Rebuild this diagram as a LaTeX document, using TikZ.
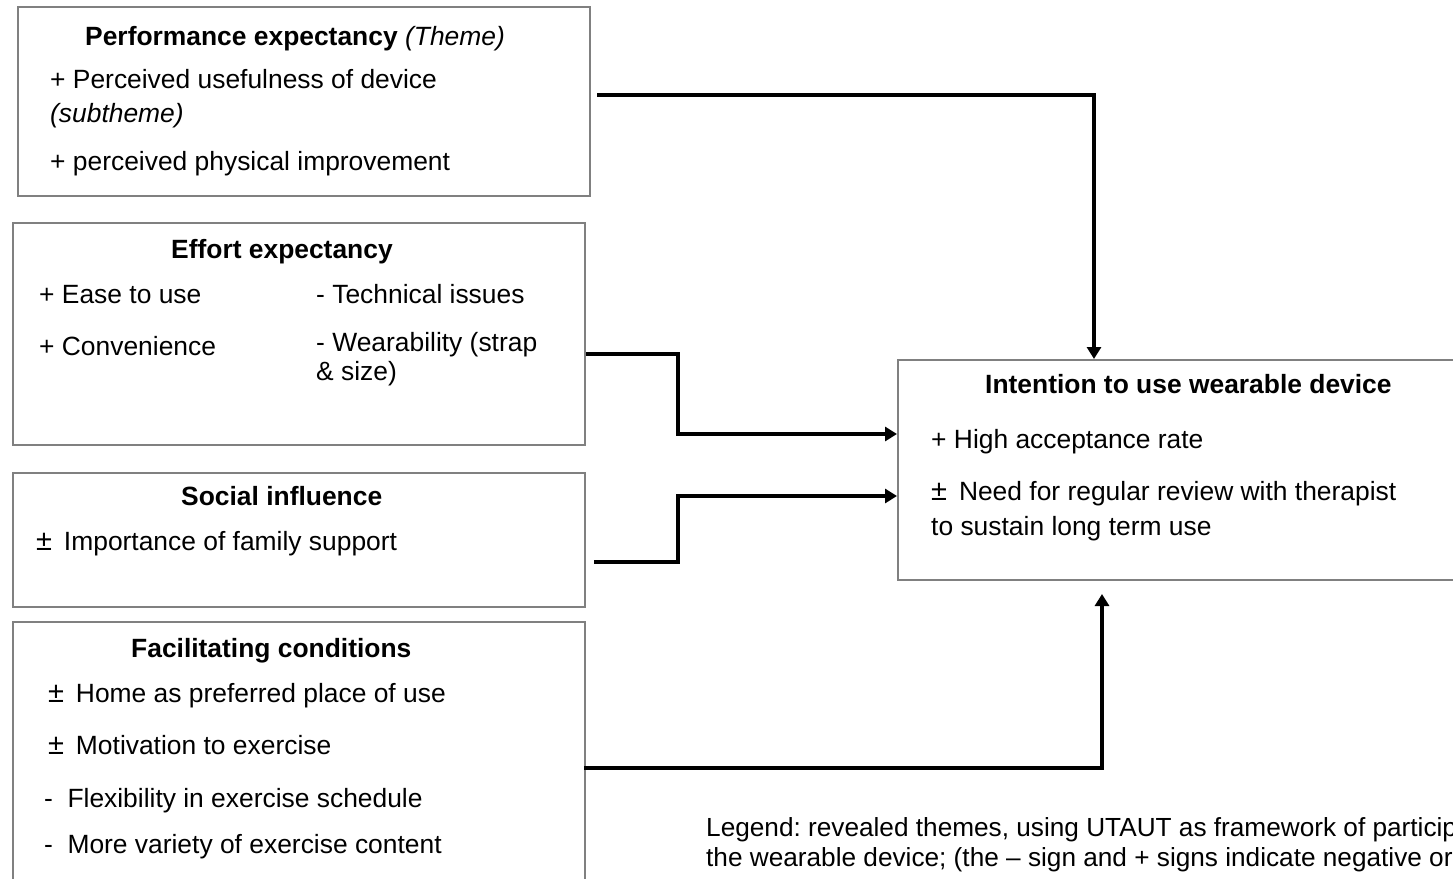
\documentclass[tikz,border=0pt]{standalone}
\usepackage{fontspec}
\setmainfont{Liberation Sans}
\usetikzlibrary{arrows.meta,calc}
\definecolor{boxgray}{RGB}{128,128,128}
\tikzset{
  themebox/.style={draw=boxgray, line width=2pt, anchor=north west, inner sep=0pt},
  txt/.style={anchor=base west, inner sep=0pt, font=\fontsize{26.4}{31}\selectfont},
  ttl/.style={txt, font=\fontsize{26.4}{31}\selectfont\bfseries},
  legend/.style={anchor=base west, inner sep=0pt,
    font=\fontsize{26.2}{30}\selectfont\frenchspacing},
  conn/.style={line width=3.5pt, -{Triangle[length=12pt,width=14pt]}}
}
\newcommand{\mixedsign}{{\fontsize{29}{31}\selectfont ±}\hspace{0.45em}}
\begin{document}
\begin{tikzpicture}[x=1pt,y=-1pt]
\clip (0,0) rectangle (1453,878);
\fill[white] (0,0) rectangle (1453,878);

% theme boxes
\node[themebox, minimum width=572, minimum height=189] (perf) at (17,6) {};
\node[themebox, minimum width=572, minimum height=222] (eff) at (12,222) {};
\node[themebox, minimum width=572, minimum height=134] (soc) at (12,472) {};
\node[themebox, minimum width=572, minimum height=320] (fac) at (12,621) {};
\node[themebox, minimum width=620, minimum height=220] (intent) at (897,359) {};

% performance expectancy
\node[ttl] (perfT) at (85,45) {Performance expectancy \normalfont\itshape (Theme)};
\node[txt] (perf1) at (50,88) {+ Perceived usefulness of device};
\node[txt] (perf2) at (50,122) {\itshape (subtheme)};
\node[txt] (perf3) at (50,170) {+ perceived physical improvement};

% effort expectancy
\node[ttl] (effT) at (171,258) {Effort expectancy};
\node[txt] (eff1) at (39,303) {+ Ease to use};
\node[txt] (eff2) at (316,303) {- Technical issues};
\node[txt] (eff3) at (39,355) {+ Convenience};
\node[txt] (eff4) at (316,351) {- Wearability (strap};
\node[txt] (eff5) at (316,380) {\& size)};

% social influence
\node[ttl] (socT) at (181,505) {Social influence};
\node[txt] (soc1) at (36,550) {\mixedsign Importance of family support};

% facilitating conditions
\node[ttl] (facT) at (131,657) {Facilitating conditions};
\node[txt] (fac1) at (48,702) {\mixedsign Home as preferred place of use};
\node[txt] (fac2) at (48,754) {\mixedsign Motivation to exercise};
\node[txt] (fac3) at (44,807) {-\hspace{0.55em}Flexibility in exercise schedule};
\node[txt] (fac4) at (44,853) {-\hspace{0.55em}More variety of exercise content};

% intention to use
\node[ttl] (intT) at (985,393) {Intention to use wearable device};
\node[txt] (int1) at (931,448) {+ High acceptance rate};
\node[txt] (int2) at (931,500) {\mixedsign Need for regular review with therapist};
\node[txt] (int3) at (931,535) {to sustain long term use};

% legend, two lines running past the right edge
\node[legend] (leg1) at (706,836) {Legend: revealed themes, using UTAUT as framework of participants' acceptance of};
\node[legend] (leg2) at (706,866) {the wearable device; (the – sign and + signs indicate negative or positive views)};

% connectors
\draw[conn] ($(perf.north east)+(6,89)$) -| ($(intent.north west)+(197,0)$);
\draw[conn] ($(eff.north east)+(0,132)$) -- ++(92,0) |- ($(intent.north west)+(0,75)$);
\draw[conn] ($(soc.north east)+(8,90)$) -- ++(84,0) |- ($(intent.north west)+(0,137)$);
\draw[conn] ($(fac.north east)+(-2,147)$) -| ($(intent.south west)+(205,13)$);
\end{tikzpicture}
\end{document}
